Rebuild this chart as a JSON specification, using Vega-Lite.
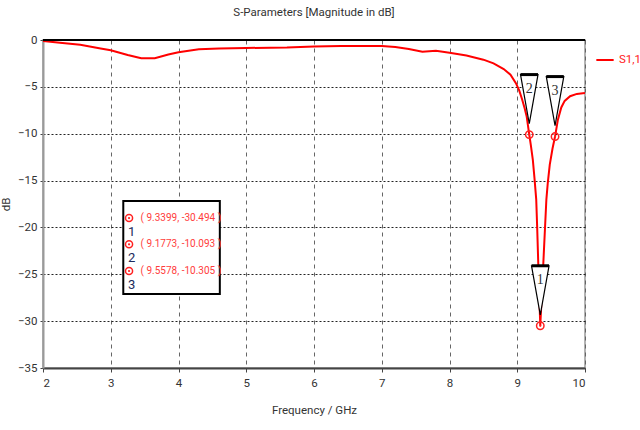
{
  "$schema": "https://vega.github.io/schema/vega-lite/v6.json",
  "width": 542,
  "height": 328,
  "autosize": {"type": "none"},
  "padding": {"left": 43, "top": 40, "right": 55, "bottom": 62},
  "background": "white",
  "config": {
    "font": "Roboto",
    "view": {"stroke": "#9a9a9a", "strokeWidth": 1.5},
    "axis": {"labelFont": "Roboto", "titleFont": "Roboto", "labelColor": "#333", "titleColor": "#333", "labelFontSize": 11.5, "titleFontSize": 11.5, "titleFontWeight": "normal"}
  },
  "title": {"text": "S-Parameters [Magnitude in dB]", "fontSize": 11.5, "fontWeight": "normal", "color": "#333", "offset": 16, "font": "Roboto"},
  "datasets": {
    "curve": [
      {"freq": 2.0, "db": -0.1, "series": "S1,1"},
      {"freq": 2.25, "db": -0.3, "series": "S1,1"},
      {"freq": 2.55, "db": -0.5, "series": "S1,1"},
      {"freq": 2.85, "db": -0.9, "series": "S1,1"},
      {"freq": 3.0, "db": -1.1, "series": "S1,1"},
      {"freq": 3.25, "db": -1.6, "series": "S1,1"},
      {"freq": 3.45, "db": -1.95, "series": "S1,1"},
      {"freq": 3.65, "db": -1.95, "series": "S1,1"},
      {"freq": 3.85, "db": -1.55, "series": "S1,1"},
      {"freq": 4.0, "db": -1.3, "series": "S1,1"},
      {"freq": 4.3, "db": -1.0, "series": "S1,1"},
      {"freq": 4.6, "db": -0.9, "series": "S1,1"},
      {"freq": 5.0, "db": -0.85, "series": "S1,1"},
      {"freq": 5.6, "db": -0.8, "series": "S1,1"},
      {"freq": 6.0, "db": -0.7, "series": "S1,1"},
      {"freq": 6.4, "db": -0.65, "series": "S1,1"},
      {"freq": 7.0, "db": -0.65, "series": "S1,1"},
      {"freq": 7.2, "db": -0.75, "series": "S1,1"},
      {"freq": 7.4, "db": -0.95, "series": "S1,1"},
      {"freq": 7.6, "db": -1.25, "series": "S1,1"},
      {"freq": 7.8, "db": -1.15, "series": "S1,1"},
      {"freq": 8.0, "db": -1.35, "series": "S1,1"},
      {"freq": 8.25, "db": -1.65, "series": "S1,1"},
      {"freq": 8.5, "db": -2.1, "series": "S1,1"},
      {"freq": 8.65, "db": -2.5, "series": "S1,1"},
      {"freq": 8.8, "db": -3.1, "series": "S1,1"},
      {"freq": 8.9, "db": -3.7, "series": "S1,1"},
      {"freq": 8.98, "db": -4.6, "series": "S1,1"},
      {"freq": 9.03, "db": -5.4, "series": "S1,1"},
      {"freq": 9.07, "db": -6.3, "series": "S1,1"},
      {"freq": 9.11, "db": -7.3, "series": "S1,1"},
      {"freq": 9.14, "db": -8.2, "series": "S1,1"},
      {"freq": 9.1773, "db": -10.093, "series": "S1,1"},
      {"freq": 9.2, "db": -11.2, "series": "S1,1"},
      {"freq": 9.23, "db": -12.8, "series": "S1,1"},
      {"freq": 9.255, "db": -14.8, "series": "S1,1"},
      {"freq": 9.28, "db": -17.0, "series": "S1,1"},
      {"freq": 9.295, "db": -20.2, "series": "S1,1"},
      {"freq": 9.31, "db": -23.8, "series": "S1,1"},
      {"freq": 9.325, "db": -27.2, "series": "S1,1"},
      {"freq": 9.3399, "db": -30.494, "series": "S1,1"},
      {"freq": 9.36, "db": -27.5, "series": "S1,1"},
      {"freq": 9.385, "db": -23.8, "series": "S1,1"},
      {"freq": 9.41, "db": -20.0, "series": "S1,1"},
      {"freq": 9.43, "db": -17.0, "series": "S1,1"},
      {"freq": 9.45, "db": -15.3, "series": "S1,1"},
      {"freq": 9.48, "db": -13.3, "series": "S1,1"},
      {"freq": 9.52, "db": -11.6, "series": "S1,1"},
      {"freq": 9.5578, "db": -10.305, "series": "S1,1"},
      {"freq": 9.6, "db": -8.5, "series": "S1,1"},
      {"freq": 9.65, "db": -7.2, "series": "S1,1"},
      {"freq": 9.7, "db": -6.5, "series": "S1,1"},
      {"freq": 9.78, "db": -6.0, "series": "S1,1"},
      {"freq": 9.88, "db": -5.75, "series": "S1,1"},
      {"freq": 10.0, "db": -5.65, "series": "S1,1"}
    ],
    "markers": [
      {"id": "1", "freq": 9.3399, "db": -30.494, "label": "( 9.3399, -30.494 )"},
      {"id": "2", "freq": 9.1773, "db": -10.093, "label": "( 9.1773, -10.093 )"},
      {"id": "3", "freq": 9.5578, "db": -10.305, "label": "( 9.5578, -10.305 )"}
    ]
  },
  "layer": [
    {
      "data": {"name": "curve"},
      "mark": {"type": "line", "strokeWidth": 2, "clip": true},
      "encoding": {
        "x": {"field": "freq", "type": "quantitative", "title": "Frequency / GHz",
          "scale": {"domain": [2, 10], "nice": false, "zero": false},
          "axis": {"values": [2, 3, 4, 5, 6, 7, 8, 9, 10], "format": "d", "grid": true, "gridColor": "#666", "gridDash": [4, 4], "gridWidth": 1, "gridOpacity": 1, "domainColor": "#444", "domainWidth": 2, "tickColor": "#444", "tickSize": 4, "labelPadding": 5, "titlePadding": 16}},
        "y": {"field": "db", "type": "quantitative", "title": "dB",
          "scale": {"domain": [-35, 0], "nice": false, "zero": false},
          "axis": {"values": [0, -5, -10, -15, -20, -25, -30, -35], "grid": true, "gridColor": "#222", "gridDash": [2, 2], "gridWidth": 1, "gridOpacity": 1, "domainColor": "#9a9a9a", "domainWidth": 2, "tickColor": "#444", "tickSize": 3, "labelPadding": 3, "titlePadding": 6}},
        "color": {"field": "series", "type": "nominal", "scale": {"range": ["#ff0000"]},
          "legend": {"title": null, "orient": "none", "legendX": 552, "legendY": 10, "symbolType": "stroke", "symbolStrokeWidth": 2, "symbolSize": 300, "labelColor": "#ff2020", "labelFontSize": 11.5, "labelOffset": 4, "labelFont": "Roboto"}}
      }
    },
    {
      "data": {"values": [{}]},
      "mark": {"type": "rule", "color": "#000", "strokeWidth": 2},
      "encoding": {"y": {"datum": 0, "type": "quantitative"}}
    },
    {
      "data": {"name": "markers"},
      "mark": {"type": "point", "shape": "M -0.35 -2.4 L 0.35 -2.4 L 0 -0.44 Z", "size": 2500, "filled": true, "fill": "white", "stroke": "#000", "strokeWidth": 1.2, "opacity": 1},
      "encoding": {"x": {"field": "freq", "type": "quantitative"}, "y": {"field": "db", "type": "quantitative"}}
    },
    {
      "data": {"name": "markers"},
      "mark": {"type": "point", "shape": "M -0.35 -2.4 L 0.35 -2.4", "size": 2500, "filled": false, "stroke": "#000", "strokeWidth": 3, "opacity": 1},
      "encoding": {"x": {"field": "freq", "type": "quantitative"}, "y": {"field": "db", "type": "quantitative"}}
    },
    {
      "data": {"name": "markers"},
      "mark": {"type": "text", "dy": -46, "fontSize": 14, "font": "Liberation Serif, DejaVu Serif, serif", "color": "#333"},
      "encoding": {"x": {"field": "freq", "type": "quantitative"}, "y": {"field": "db", "type": "quantitative"}, "text": {"field": "id"}}
    },
    {
      "data": {"name": "markers"},
      "mark": {"type": "point", "shape": "circle", "size": 55, "filled": false, "stroke": "#ff2020", "strokeWidth": 1.5, "opacity": 1},
      "encoding": {"x": {"field": "freq", "type": "quantitative"}, "y": {"field": "db", "type": "quantitative"}}
    },
    {
      "data": {"name": "markers"},
      "mark": {"type": "point", "shape": "circle", "size": 5, "filled": true, "fill": "#ff2020", "strokeWidth": 0, "opacity": 1},
      "encoding": {"x": {"field": "freq", "type": "quantitative"}, "y": {"field": "db", "type": "quantitative"}}
    },
    {
      "data": {"values": [{}]},
      "mark": {"type": "rect", "fill": "white", "stroke": "#000", "strokeWidth": 2},
      "encoding": {"x": {"datum": 3.185, "type": "quantitative"}, "x2": {"datum": 4.61}, "y": {"datum": -17.18, "type": "quantitative"}, "y2": {"datum": -27.1}}
    },
    {
      "data": {"name": "markers"},
      "transform": [{"filter": "datum.id == '1'"}],
      "encoding": {"y": {"datum": -19.0, "type": "quantitative"}},
      "layer": [
        {"mark": {"type": "point", "shape": "circle", "size": 50, "filled": false, "stroke": "#ff2020", "strokeWidth": 1.5, "opacity": 1}, "encoding": {"x": {"datum": 3.27, "type": "quantitative"}}},
        {"mark": {"type": "point", "shape": "circle", "size": 5, "filled": true, "fill": "#ff2020", "strokeWidth": 0, "opacity": 1}, "encoding": {"x": {"datum": 3.27, "type": "quantitative"}}},
        {"mark": {"type": "text", "align": "left", "fontSize": 10, "color": "#ff3c3c"}, "encoding": {"x": {"datum": 3.44, "type": "quantitative"}, "text": {"field": "label"}}},
        {"mark": {"type": "text", "align": "center", "dy": 14, "fontSize": 13, "color": "#1c2a5c"}, "encoding": {"x": {"datum": 3.31, "type": "quantitative"}, "text": {"field": "id"}}}
      ]
    },
    {
      "data": {"name": "markers"},
      "transform": [{"filter": "datum.id == '2'"}],
      "encoding": {"y": {"datum": -21.8, "type": "quantitative"}},
      "layer": [
        {"mark": {"type": "point", "shape": "circle", "size": 50, "filled": false, "stroke": "#ff2020", "strokeWidth": 1.5, "opacity": 1}, "encoding": {"x": {"datum": 3.27, "type": "quantitative"}}},
        {"mark": {"type": "point", "shape": "circle", "size": 5, "filled": true, "fill": "#ff2020", "strokeWidth": 0, "opacity": 1}, "encoding": {"x": {"datum": 3.27, "type": "quantitative"}}},
        {"mark": {"type": "text", "align": "left", "fontSize": 10, "color": "#ff3c3c"}, "encoding": {"x": {"datum": 3.44, "type": "quantitative"}, "text": {"field": "label"}}},
        {"mark": {"type": "text", "align": "center", "dy": 14, "fontSize": 13, "color": "#1c2a5c"}, "encoding": {"x": {"datum": 3.31, "type": "quantitative"}, "text": {"field": "id"}}}
      ]
    },
    {
      "data": {"name": "markers"},
      "transform": [{"filter": "datum.id == '3'"}],
      "encoding": {"y": {"datum": -24.65, "type": "quantitative"}},
      "layer": [
        {"mark": {"type": "point", "shape": "circle", "size": 50, "filled": false, "stroke": "#ff2020", "strokeWidth": 1.5, "opacity": 1}, "encoding": {"x": {"datum": 3.27, "type": "quantitative"}}},
        {"mark": {"type": "point", "shape": "circle", "size": 5, "filled": true, "fill": "#ff2020", "strokeWidth": 0, "opacity": 1}, "encoding": {"x": {"datum": 3.27, "type": "quantitative"}}},
        {"mark": {"type": "text", "align": "left", "fontSize": 10, "color": "#ff3c3c"}, "encoding": {"x": {"datum": 3.44, "type": "quantitative"}, "text": {"field": "label"}}},
        {"mark": {"type": "text", "align": "center", "dy": 14, "fontSize": 13, "color": "#1c2a5c"}, "encoding": {"x": {"datum": 3.31, "type": "quantitative"}, "text": {"field": "id"}}}
      ]
    }
  ]
}
